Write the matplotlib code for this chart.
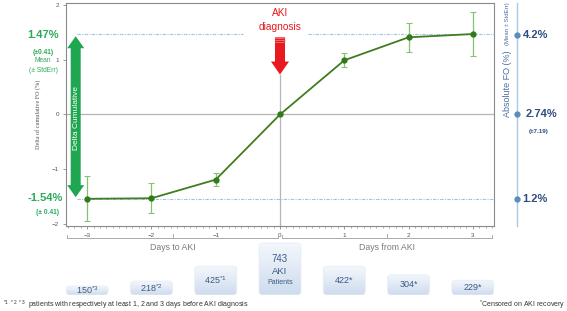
import numpy as np
import matplotlib
matplotlib.use("Agg")
import matplotlib.pyplot as plt
from matplotlib.patches import FancyBboxPatch, Polygon
from matplotlib.colors import LinearSegmentedColormap
from matplotlib.ticker import MultipleLocator
from matplotlib.transforms import blended_transform_factory

plt.rcParams['font.family'] = ['Liberation Sans', 'DejaVu Sans']
plt.rcParams['mathtext.default'] = 'regular'

# data
days = [-3, -2, -1, 0, 1, 2, 3]
delta_fo = [-1.54, -1.53, -1.19, 0.0, 0.99, 1.41, 1.47]
delta_err = [0.41, 0.27, 0.12, 0.0, 0.13, 0.26, 0.41]
patients = [150, 218, 425, 743, 422, 304, 229]
box_labels = ['150$^{*3}$', '218$^{*2}$', '425$^{*1}$', '', '422*', '304*', '229*']
delta_hi, delta_lo = 1.47, -1.54
abs_baseline = 2.74
abs_fo = [4.2, 2.74, 1.2]
abs_fo_labels = ['4.2%', '2.74%', '1.2%']

W, H = 567, 311
GREEN_TXT = '#2aab5b'
BLUE_TXT = '#2f4d7e'

fig = plt.figure(figsize=(W / 100, H / 100), dpi=100)
ax = fig.add_axes([66 / W, 1 - 226 / H, 428 / W, 223 / H])

ax.set_xlim(-3.33, 3.33)
ax.set_ylim(-2.037, 2.037)

# reference lines
ax.axhline(0, color='#b5b5b5', lw=0.9, zorder=1)
ax.plot([0, 0], [-2.037, 0.73], color='#b5b5b5', lw=0.9, zorder=1)
dash = (0, (3, 1.2, 1, 1.2))
ax.plot([-3.16, -0.58], [delta_hi, delta_hi], color='#9dc3e3', lw=0.8, ls=dash)
ax.plot([0.44, 3.33], [delta_hi, delta_hi], color='#9dc3e3', lw=0.8, ls=dash)
ax.plot([-3.16, 3.33], [delta_lo, delta_lo], color='#9dc3e3', lw=0.8, ls=dash)

# main series
ax.errorbar(days, delta_fo, yerr=delta_err, fmt='none', ecolor='#86c170',
            elinewidth=0.9, capsize=2, capthick=0.8, zorder=3)
ax.plot(days, delta_fo, color='#3f7d20', lw=1.3, marker='o', ms=3.5,
        mfc='#2f7a19', mec='#2f7a19', zorder=4)

# axes styling
for s in ax.spines.values():
    s.set_color('#8a8a8a')
    s.set_linewidth(0.8)
ax.set_xticks(days)
ax.set_yticks([-2, -1, 0, 1, 2])
ax.xaxis.set_minor_locator(MultipleLocator(0.1))
ax.tick_params(axis='both', labelsize=4.5, colors='#8a8a8a', labelcolor='#555555',
               length=2, width=0.6, pad=3)
ax.tick_params(axis='x', which='minor', length=1.5, width=0.5, colors='#8a8a8a')
ax.set_ylabel('Delta of cumulative FO (%)', fontsize=4.4, color='#555555',
              family='Liberation Serif', labelpad=8)

# px per data unit (x and y)
pxx = 428 / 6.66
pxy = 223 / 4.074

# green double arrow
xc = -3.179
bw, hw, hl = 5 / pxx, 8.5 / pxx, 12 / pxy
top, bot = delta_hi - 0.04, delta_lo + 0.03
pts = [(xc, top), (xc + hw, top - hl), (xc + bw, top - hl), (xc + bw, bot + hl),
       (xc + hw, bot + hl), (xc, bot), (xc - hw, bot + hl), (xc - bw, bot + hl),
       (xc - bw, top - hl), (xc - hw, top - hl)]
ax.add_patch(Polygon(pts, closed=True, fc='#1fa650', ec='none', clip_on=False, zorder=5))
ax.text(xc + 0.02, -0.07, 'Delta Cumulative', rotation=90, color='white', fontsize=6,
        ha='center', va='center', zorder=6)

# red arrow
rtop, rtip = 1.41, 0.73
bw, hw, hl = 5 / pxx, 9 / pxx, 13 / pxy
pts = [(-bw, rtop), (bw, rtop), (bw, rtip + hl), (hw, rtip + hl), (0, rtip),
       (-hw, rtip + hl), (-bw, rtip + hl)]
ax.add_patch(Polygon(pts, closed=True, fc='#e8191f', ec='none', zorder=5))
for k in range(3):
    yy = rtop - (1 + 2 * k) / pxy
    ax.plot([-bw, bw], [yy, yy], color='#f48a8a', lw=0.5, zorder=6)
fig.text(280 / W, 1 - 13 / H, 'AKI', color='#e8191f', fontsize=7.3, ha='center', va='center')
fig.text(280 / W, 1 - 27 / H, 'diagnosis', color='#e8191f', fontsize=7.3, ha='center', va='center')

# left labels
fig.text(43 / W, 1 - 35 / H, '1.47%', color=GREEN_TXT, fontsize=8, weight='bold', ha='center', va='center')
fig.text(43 / W, 1 - 52 / H, '(±0.41)', color=GREEN_TXT, fontsize=4.8, weight='bold', ha='center', va='center')
fig.text(43 / W, 1 - 61 / H, 'Mean', color=GREEN_TXT, fontsize=4.8, ha='center', va='center')
fig.text(43 / W, 1 - 70 / H, '(± StdErr)', color=GREEN_TXT, fontsize=4.8, ha='center', va='center')
fig.text(45 / W, 1 - 198 / H, '-1.54%', color=GREEN_TXT, fontsize=8, weight='bold', ha='center', va='center')
fig.text(47 / W, 1 - 212 / H, '(± 0.41)', color=GREEN_TXT, fontsize=4.8, weight='bold', ha='center', va='center')

# right absolute FO scale
tr = blended_transform_factory(ax.transAxes, ax.transData)
xr = (517 - 66) / 428
ax.plot([xr, xr], [-2.037, 2.037], color='#a9c9e2', lw=1.0, transform=ax.get_yaxis_transform(),
        clip_on=False)
ax.plot([xr] * 3, np.array(abs_fo) - abs_baseline, 'o', ms=3.5, color='#5b8db8',
        transform=tr, clip_on=False)
offs = [6, 9, 5]
for v, lab, o in zip(abs_fo, abs_fo_labels, offs):
    ax.text(xr + o / 428, v - abs_baseline, lab, transform=tr, color=BLUE_TXT, fontsize=8,
            weight='bold', ha='left', va='center')
fig.text(539 / W, 1 - 132 / H, '(±7.19)', color=BLUE_TXT, fontsize=4.5, weight='bold',
         ha='center', va='center')
fig.text(507 / W, 1 - 84 / H, 'Absolute FO (%)', color='#4a6fa0', fontsize=6.5, rotation=90,
         ha='center', va='center')
fig.text(507 / W, 1 - 24 / H, '(Mean ± StdErr)', color='#4a6fa0', fontsize=4.3, rotation=90,
         ha='center', va='center')

# brackets under the axis
tb = ax.get_xaxis_transform()
yb = -12 / 223
for x0, x1 in [(-3.31, -0.03), (0.03, 3.30)]:
    ax.plot([x0, x0, x1, x1], [yb + 3 / 223, yb, yb, yb + 3 / 223], color='#aaaaaa', lw=0.7,
            transform=tb, clip_on=False)
    xm = (x0 + x1) / 2
    ax.plot([xm, xm], [yb, yb + 4 / 223], color='#aaaaaa', lw=0.7, transform=tb, clip_on=False)
ax.text(-1.67, -21 / 223, 'Days to AKI', color='#7a7a7a', fontsize=6.3, ha='center', va='center',
        transform=tb)
ax.text(1.67, -21 / 223, 'Days from AKI', color='#7a7a7a', fontsize=6.3, ha='center', va='center',
        transform=tb)

# patient count boxes
bx = fig.add_axes([66 / W, 1 - 295 / H, 428 / W, 56 / H])
base = 26
bx.axis('off')
grad = np.linspace(0, 1, 64).reshape(-1, 1)
cmap = LinearSegmentedColormap.from_list('box', ['#cddcee', '#f4f7fc'])
half = 21 / pxx
for d, n, lab in zip(days, patients, box_labels):
    p = FancyBboxPatch((d - half, base), 2 * half, n - base,
                       boxstyle='round,pad=0,rounding_size=0.06',
                       mutation_aspect=pxx / 0.0725, fc='none', ec='#e6edf6', lw=0.6, zorder=2)
    bx.add_patch(p)
    im = bx.imshow(grad, extent=(d - half, d + half, base, n), origin='lower', aspect='auto',
                   cmap=cmap, zorder=1)
    im.set_clip_path(p)
    yc = (base + n) / 2
    if lab:
        bx.text(d, yc, lab, color='#3b5a85', fontsize=6.5, ha='center', va='center', zorder=3)
    else:
        bx.annotate(str(n), (d, yc), xytext=(0, 7.5), textcoords='offset points', color='#3b5a85',
                    fontsize=7, ha='center', va='center')
        bx.annotate('AKI', (d, yc), xytext=(0, -2), textcoords='offset points', color='#3b5a85',
                    fontsize=6.8, ha='center', va='center')
        bx.annotate('Patients', (d, yc), xytext=(0, -9.5), textcoords='offset points',
                    color='#3b5a85', fontsize=5, ha='center', va='center')
bx.set_xlim(-3.33, 3.33)
bx.set_ylim(base, base + 56 / 0.0725)

# footnotes
fig.text(3 / W, 1 - 305 / H,
         '$^{*1\\ *2\\ *3}$  patients with respectively at least 1, 2 and 3 days before AKI diagnosis',
         color='#333333', fontsize=5, ha='left', va='center')
fig.text(565 / W, 1 - 305 / H, '$^{*}$Censored on AKI recovery', color='#333333', fontsize=5,
         ha='right', va='center')

fig.savefig('out.png', dpi=100)
